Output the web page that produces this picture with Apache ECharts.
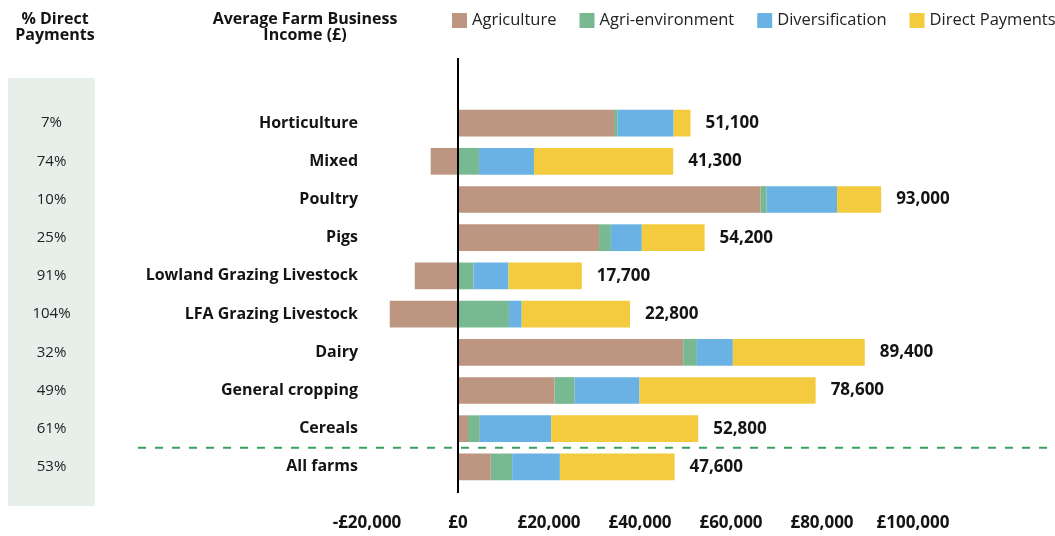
<!DOCTYPE html>
<html>
<head>
<meta charset="utf-8">
<style>
  html, body { margin: 0; padding: 0; background: #ffffff; }
  #chart { width: 1055px; height: 536px; }
</style>
<script src="https://cdn.jsdelivr.net/npm/echarts@6/dist/echarts.min.js"></script>
</head>
<body>
<div id="chart"></div>
<script>
// Average Farm Business Income by farm type, split by income source (£)
const categories = ['Horticulture', 'Mixed', 'Poultry', 'Pigs', 'Lowland Grazing Livestock',
  'LFA Grazing Livestock', 'Dairy', 'General cropping', 'Cereals', 'All farms'];
const agriculture     = [34300, -6000, 66500, 31000, -9500, -15000, 49500, 21200, 2200, 7200];
const agriEnvironment = [800, 4600, 1300, 2600, 3400, 11200, 3000, 4400, 2600, 4700];
const diversification = [12300, 12100, 15500, 6800, 7700, 2800, 7900, 14300, 15700, 10500];
const directPayments  = [3700, 30600, 9700, 13800, 16100, 23800, 29000, 38700, 32300, 25200];
const totals          = [51100, 41300, 93000, 54200, 17700, 22800, 89400, 78600, 52800, 47600];
const directShare     = [7, 74, 10, 25, 91, 104, 32, 49, 61, 53];
const xTicks = { min: -20000, max: 100000, step: 20000 };

const FONT = '"Open Sans", "Noto Sans", sans-serif';
const INK = '#141414';
const colors = {
  agriculture: '#bd9681',
  agriEnv: '#78b992',
  diversification: '#69b2e3',
  direct: '#f4cb3f'
};

function thousands(n) {
  return String(Math.round(n)).replace(/\B(?=(\d{3})+(?!\d))/g, ',');
}

const chart = echarts.init(document.getElementById('chart'), null, { renderer: 'canvas' });

function barSeries(name, data, color, extra) {
  return Object.assign({
    name: name,
    type: 'bar',
    stack: 'income',
    data: data,
    barCategoryGap: '30%',
    itemStyle: { color: color },
    emphasis: { disabled: true }
  }, extra || {});
}

chart.setOption({
  animation: false,
  textStyle: { fontFamily: FONT },
  legend: {
    left: 447,
    top: 7,
    width: 1200,
    icon: 'rect',
    itemWidth: 15,
    itemHeight: 15,
    itemGap: 23,
    selectedMode: false,
    textStyle: { fontFamily: FONT, fontSize: 16.5, color: '#222' },
    data: ['Agriculture', 'Agri-environment', 'Diversification', 'Direct Payments']
  },
  grid: { left: 367, width: 546, top: 104, bottom: 50, containLabel: false },
  xAxis: {
    type: 'value',
    min: xTicks.min,
    max: xTicks.max,
    interval: xTicks.step,
    axisLine: { show: false },
    axisTick: { show: false },
    splitLine: { show: false },
    axisLabel: {
      margin: 29,
      fontFamily: FONT,
      fontSize: 17,
      fontWeight: 'bold',
      color: INK,
      formatter: v => (v < 0 ? '-£' : '£') + thousands(Math.abs(v))
    }
  },
  yAxis: [
    {
      type: 'category',
      inverse: true,
      data: categories,
      axisLine: { show: true, onZero: true, lineStyle: { color: '#000', width: 2 } },
      axisTick: { show: false },
      axisLabel: {
        margin: 9,
        fontFamily: FONT,
        fontSize: 16,
        fontWeight: 'bold',
        color: INK,
        padding: [0, 0, 3, 0]
      }
    },
    {
      type: 'category',
      inverse: true,
      position: 'left',
      offset: 315.5,
      data: directShare.map(p => p + '%'),
      axisLine: { show: false, onZero: false },
      axisTick: { show: false },
      axisLabel: {
        margin: 0,
        align: 'center',
        fontFamily: FONT,
        fontSize: 15,
        color: '#222',
        padding: [0, 0, 3, 0]
      }
    }
  ],
  series: [
    barSeries('Agriculture', agriculture, colors.agriculture),
    barSeries('Agri-environment', agriEnvironment, colors.agriEnv),
    barSeries('Diversification', diversification, colors.diversification),
    barSeries('Direct Payments', directPayments, colors.direct, {
      label: {
        show: true,
        position: 'right',
        distance: 15,
        fontFamily: FONT,
        fontSize: 17,
        fontWeight: 'bold',
        color: INK,
        formatter: p => thousands(totals[p.dataIndex])
      }
    })
  ]
});

// Decorations positioned from the chart's own scales
const x0 = chart.convertToPixel({ xAxisIndex: 0 }, 0);
const yCereals = chart.convertToPixel({ yAxisIndex: 0 }, 'Cereals');
const yAll = chart.convertToPixel({ yAxisIndex: 0 }, 'All farms');
const ySplit = (yCereals + yAll) / 2;

chart.setOption({
  graphic: [
    {
      type: 'rect',
      z: -10,
      silent: true,
      shape: { x: 8, y: 78, width: 87, height: 428 },
      style: { fill: '#e6efea' }
    },
    {
      type: 'text',
      silent: true,
      style: {
        x: 55, y: 11,
        text: '% Direct\nPayments',
        fontFamily: FONT, fontSize: 16, fontWeight: 'bold', fill: INK,
        align: 'center', verticalAlign: 'top', lineHeight: 16
      }
    },
    {
      type: 'text',
      silent: true,
      style: {
        x: 305, y: 11,
        text: 'Average Farm Business\nIncome (£)',
        fontFamily: FONT, fontSize: 16, fontWeight: 'bold', fill: INK,
        align: 'center', verticalAlign: 'top', lineHeight: 16
      }
    },
    {
      type: 'line',
      silent: true,
      z: 50,
      shape: { x1: 138, y1: ySplit, x2: 1055, y2: ySplit },
      style: { stroke: '#38a05e', lineWidth: 2, lineDash: [8, 9] }
    },
    {
      type: 'line',
      silent: true,
      z: 60,
      shape: { x1: x0, y1: 58, x2: x0, y2: 493 },
      style: { stroke: '#000', lineWidth: 2 }
    }
  ]
});
</script>
</body>
</html>
